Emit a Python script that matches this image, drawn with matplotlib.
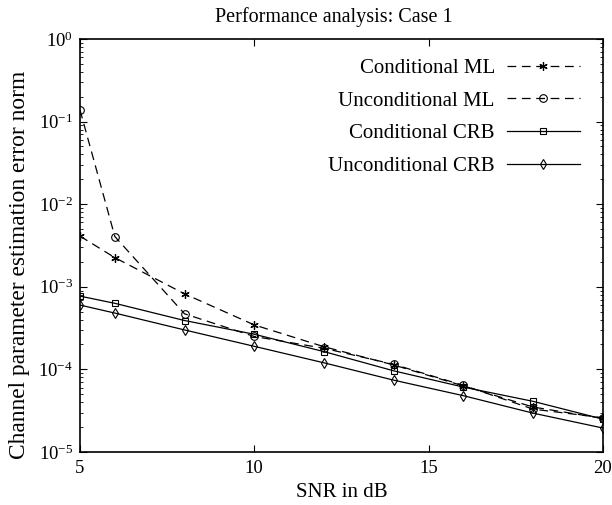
import matplotlib
matplotlib.use('Agg')
import matplotlib.pyplot as plt
from matplotlib.ticker import LogLocator, NullFormatter

plt.rcParams['font.family'] = ['Liberation Serif', 'DejaVu Serif']
plt.rcParams['mathtext.fontset'] = 'stix'

# data
snr = [5, 6, 8, 10, 12, 14, 16, 18, 20]
cond_ml = [4.1e-3, 2.25e-3, 8.2e-4, 3.45e-4, 1.88e-4, 1.13e-4, 6.3e-5, 3.5e-5, 2.55e-5]
uncond_ml = [1.38e-1, 4.05e-3, 4.7e-4, 2.5e-4, 1.8e-4, 1.15e-4, 6.4e-5, 3.3e-5, 2.6e-5]
cond_crb = [7.7e-4, 6.3e-4, 3.9e-4, 2.66e-4, 1.64e-4, 9.6e-5, 6.1e-5, 4.1e-5, 2.5e-5]
uncond_crb = [6.0e-4, 4.8e-4, 3.0e-4, 1.9e-4, 1.2e-4, 7.4e-5, 4.8e-5, 2.95e-5, 1.95e-5]
labels = ['Conditional ML', 'Unconditional ML', 'Conditional CRB', 'Unconditional CRB']

fig = plt.figure(figsize=(6.12, 5.05), dpi=100)
ax = fig.add_axes([0.1307, 0.105, 0.8543, 0.818])

lw = 0.9
ax.plot(snr, cond_ml, color='k', lw=lw, dashes=(7, 4.5), marker=(6, 2, 0), ms=6, mew=0.9, label=labels[0])
ax.plot(snr, uncond_ml, color='k', lw=lw, dashes=(7, 4.5), marker='o', ms=5.5, mfc='none', mew=0.8, label=labels[1])
ax.plot(snr, cond_crb, color='k', lw=lw, ls='-', marker='s', ms=4.5, mfc='none', mew=0.8, label=labels[2])
ax.plot(snr, uncond_crb, color='k', lw=lw, ls='-', marker='d', ms=5.5, mfc='none', mew=0.8, label=labels[3])

ax.set_yscale('log')
ax.set_xlim(5, 20)
ax.set_ylim(1e-5, 1)
ax.set_xticks([5, 10, 15, 20])
ax.yaxis.set_major_locator(LogLocator(base=10, numticks=10))
ax.yaxis.set_minor_locator(LogLocator(base=10, subs=range(2, 10), numticks=20))
ax.yaxis.set_minor_formatter(NullFormatter())

ax.tick_params(which='both', direction='in', top=True, right=True, labelsize=13.5)
ax.tick_params(axis='y', which='major', pad=5)
ax.tick_params(axis='x', which='major', pad=6)
ax.tick_params(which='major', length=5, width=0.8)
ax.tick_params(which='minor', length=2.5, width=0.6)
for s in ax.spines.values():
    s.set_linewidth(1.2)

ax.set_title('Performance analysis: Case 1', fontsize=14.5, pad=12, x=0.485)
ax.set_xlabel('SNR in dB', fontsize=15, labelpad=4)
ax.set_ylabel('Channel parameter estimation error norm', fontsize=16.8)
ax.yaxis.set_label_coords(-0.096, 0.453)

ax.legend(loc='upper right', frameon=False, markerfirst=False, numpoints=1,
          fontsize=15, handlelength=3.5, handletextpad=0.58, labelspacing=0.63,
          borderpad=0, borderaxespad=0, bbox_to_anchor=(0.956, 0.953))

fig.savefig('out.png', dpi=100)
